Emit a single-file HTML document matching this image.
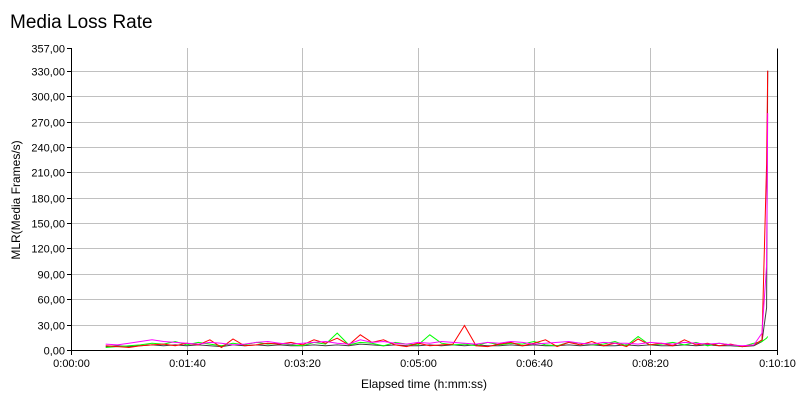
<!DOCTYPE html>
<html><head><meta charset="utf-8"><style>
body{margin:0;background:#fff;width:800px;height:400px;overflow:hidden;font-family:"Liberation Sans",sans-serif}
</style></head><body>
<svg width="800" height="400">
<text x="10" y="28" font-size="19" fill="#000">Media Loss Rate</text>
<g id="grid"></g>
<g id="axes"></g>
<g id="series"></g>
<text x="424" y="388" font-size="12" text-anchor="middle">Elapsed time (h:mm:ss)</text>
<text transform="translate(20,200) rotate(-90)" font-size="12" text-anchor="middle">MLR(Media Frames/s)</text>
</svg>
<script>
const yTicks=[0,30,60,90,120,150,180,210,240,270,300,330,357];
const yTickLabels=["0,00","30,00","60,00","90,00","120,00","150,00","180,00","210,00","240,00","270,00","300,00","330,00","357,00"];
const xTicks=[0,100,200,300,400,500,610];
const xTickLabels=["0:00:00","0:01:40","0:03:20","0:05:00","0:06:40","0:08:20","0:10:10"];
const times=[30,40,50,60,70,80,90,100,110,120,130,140,150,160,170,180,190,200,210,220,230,240,250,260,270,280,290,300,310,320,330,340,350,360,370,380,390,400,410,420,430,440,450,460,470,480,490,500,510,520,530,540,550,560,570,580,590,597,601,602];
const redValues=[5,4,3,5,6,7,5,8,6,12,3,13,5,6,8,7,9,6,12,8,14,6,18,9,12,6,4,8,5,6,7,29,5,4,7,9,5,8,12,4,9,6,10,5,8,4,13,6,8,5,12,6,8,5,7,4,6,12,220,330];
const greenValues=[3,4,5,6,8,7,10,6,9,7,5,8,6,9,7,8,6,5,9,7,20,6,9,8,5,9,7,6,18,8,6,7,5,9,6,8,7,10,6,5,9,8,6,7,10,5,16,6,7,9,6,9,5,8,6,4,8,10,14,16];
const magentaValues=[7,6,8,10,12,10,9,8,7,9,8,6,7,9,10,8,7,8,9,10,8,7,12,9,10,8,7,9,8,10,9,8,7,9,8,10,9,7,8,9,10,8,7,9,8,8,7,9,8,7,9,8,7,8,6,5,6,20,100,280];
const grayValues=[4,5,4,5,6,5,6,5,6,5,4,6,5,6,5,6,5,5,6,5,6,5,7,6,5,6,5,5,6,5,6,5,6,5,5,6,5,6,5,5,6,5,6,5,5,6,5,6,5,5,6,5,6,5,5,4,5,10,50,330];
const L=71,R=777,T=48,B=350,XMAX=610,YMAX=357;
const xs=t=>L+(t/XMAX)*(R-L);
const ys=v=>B-(v/YMAX)*(B-T);
const NS="http://www.w3.org/2000/svg";
function mk(tag,attrs,parent){const e=document.createElementNS(NS,tag);for(const k in attrs)e.setAttribute(k,attrs[k]);parent.appendChild(e);return e;}
const grid=document.getElementById('grid'),axes=document.getElementById('axes'),ser=document.getElementById('series');
yTicks.forEach((v,i)=>{
  const y=Math.round(ys(v))+0.5;
  if(v>0&&v<YMAX){const g=mk('line',{x1:L,x2:R,y1:y,y2:y,stroke:'#c0c0c0'},grid);
  
  }
  const tk=mk('line',{x1:L-4,x2:L,y1:y,y2:y,stroke:'#000'},axes);
  
  
  const t=mk('text',{x:L-6,y:y+4,'font-size':11,'text-anchor':'end'},axes);t.textContent=yTickLabels[i];
  
  
});
xTicks.forEach((v,i)=>{
  const x=Math.round(xs(v))+0.5;
  if(v>0&&v<XMAX){const g=mk('line',{x1:x,x2:x,y1:T,y2:B,stroke:'#c0c0c0'},grid);
  
  }
  const tk=mk('line',{x1:x,x2:x,y1:B,y2:B+5,stroke:'#000'},axes);
  
  
  const t=mk('text',{x:x,y:B+17,'font-size':11,'text-anchor':'middle'},axes);t.textContent=xTickLabels[i];
  
  
});
const box=mk('path',{d:`M${L+0.5},${T}V${B+0.5}H${R+0.5}V${T+0.5}`,fill:'none',stroke:'#000'},axes);


function series(vals,color,name){
  const p=mk('polyline',{points:vals.map((v,i)=>xs(times[i]).toFixed(1)+','+ys(v).toFixed(1)).join(' '),fill:'none',stroke:color,'stroke-width':1},ser);
  
  
}
series(grayValues,'#404040','series-gray');
series(greenValues,'#00ff00','series-green');
series(redValues,'#ff0000','series-red');
series(magentaValues,'#ff00ff','series-magenta');
</script>
</body></html>
